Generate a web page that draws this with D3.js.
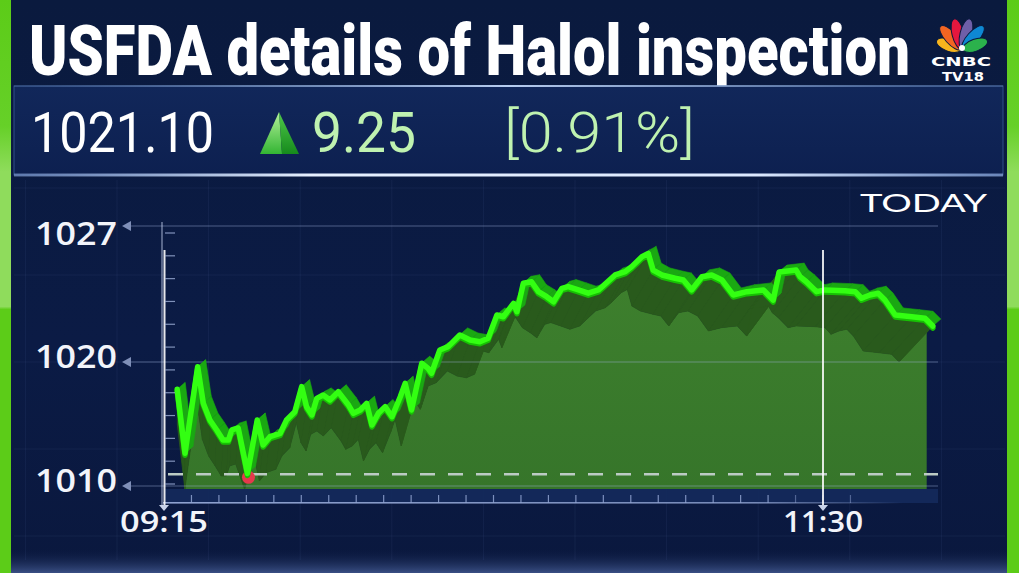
<!DOCTYPE html>
<html>
<head>
<meta charset="utf-8">
<script src="https://cdn.jsdelivr.net/npm/d3@7"></script>
<style>
  body { margin: 0; background: #0a1a40; overflow: hidden; }
</style>
</head>
<body>
<div id="chart"></div>
<script>
// ---- data ----
const title = "USFDA details of Halol inspection";
const quote = { price: "1021.10", change: "9.25", pct: "[0.91%]" };

const times = ["09:17:42","09:19:18","09:21:54","09:23:03","09:24:24","09:25:48","09:27:06","09:28:12","09:28:54","09:30:12",
  "09:32:06","09:34:06","09:35:18","09:36:42","09:38:48","09:40:06","09:41:48","09:43:12","09:44:12","09:45:18",
  "09:46:18","09:47:36","09:49:00","09:50:42","09:52:48","09:53:48","09:55:12","09:56:30","09:57:36","09:58:54",
  "10:00:18","10:01:42","10:03:24","10:04:24","10:05:42","10:07:48","10:09:06","10:09:48","10:11:30","10:13:12",
  "10:15:36","10:17:42","10:19:42","10:21:24","10:23:12","10:24:30","10:26:36","10:27:18","10:28:36","10:30:18",
  "10:31:42","10:33:24","10:34:48","10:36:30","10:37:48","10:39:54","10:41:54","10:44:00","10:47:24","10:49:30",
  "10:50:48","10:52:54","10:54:12","10:55:12","10:57:00","10:59:42","11:01:24","11:03:06","11:05:12","11:07:12",
  "11:09:18","11:11:36","11:14:24","11:17:48","11:19:48","11:21:00","11:24:30","11:25:18","11:26:36","11:28:42",
  "11:30:24","11:34:30","11:36:36","11:37:54","11:39:36","11:41:18","11:42:42","11:44:48","11:48:12","11:50:54",
  "11:52:30"];

const prices = [1017.80,1012.64,1019.62,1016.67,1015.32,1014.52,1013.71,1013.71,1014.52,1014.68,
  1011.02,1015.32,1013.31,1013.98,1014.25,1015.32,1015.99,1018.01,1016.40,1015.73,
  1017.07,1017.34,1016.94,1017.60,1016.53,1015.86,1016.13,1016.67,1014.92,1015.86,
  1016.40,1015.59,1017.20,1018.28,1016.13,1019.90,1019.49,1019.09,1020.62,1020.79,
  1021.39,1021.13,1021.04,1021.22,1022.42,1022.33,1023.02,1022.59,1024.05,1024.13,
  1023.62,1023.36,1023.10,1023.79,1023.88,1023.71,1023.54,1023.71,1024.48,1024.65,
  1024.91,1025.42,1025.59,1024.73,1024.48,1024.31,1024.22,1023.71,1024.39,1024.48,
  1024.22,1023.45,1023.62,1023.71,1023.19,1024.63,1024.73,1024.39,1024.13,1023.62,
  1023.71,1023.67,1023.62,1023.28,1023.45,1023.54,1023.19,1022.42,1022.33,1022.25,
  1021.85];

const yTicks = [1010, 1020, 1027];
const xTicks = ["09:15", "11:30"];
const refLevel = 1010.95;   // dashed line

// ---- setup ----
const W = 1019, H = 573;
const parseT = d3.timeParse("%H:%M:%S");
const parseHM = d3.timeParse("%H:%M");

const svg = d3.select("#chart").append("svg")
  .attr("width", W).attr("height", H)
  .style("display", "block");

const defs = svg.append("defs");

function vGrad(id, stops, x1 = 0, y1 = 0, x2 = 0, y2 = 1) {
  const g = defs.append("linearGradient").attr("id", id)
    .attr("x1", x1).attr("y1", y1).attr("x2", x2).attr("y2", y2);
  stops.forEach(s => g.append("stop").attr("offset", s[0]).attr("stop-color", s[1])
    .attr("stop-opacity", s[2] == null ? 1 : s[2]));
}
vGrad("bg", [[0, "#0a1a3e"], [0.6, "#0b1b45"], [1, "#0a183e"]]);
vGrad("bar", [[0, "#5ccc18"], [0.22, "#66d028"], [0.3, "#8fdc5c"], [0.535, "#8fdc5c"], [0.54, "#5ccc18"], [1, "#5ccc18"]]);
vGrad("box", [[0, "#11275a"], [1, "#0d2050"]]);
vGrad("boxTop", [[0, "#6f8fc0", 0.2], [0.5, "#b7cdf0", 1], [1, "#6f8fc0", 0.3]], 0, 0, 1, 0);
vGrad("boxBot", [[0, "#9dbbf0", 0.5], [0.3, "#e6f0ff", 1], [0.75, "#dce9ff", 1], [1, "#9dbbf0", 0.6]], 0, 0, 1, 0);
vGrad("floorGlow", [[0, "#0a183e", 0], [1, "#3a4f84", 1]]);
vGrad("triL", [[0, "#b4f09a"], [1, "#33b533"]]);
vGrad("triR", [[0, "#4fc94a"], [1, "#168a1c"]]);
vGrad("floor", [[0, "#3d7f2d"], [1, "#36752a"]]);
vGrad("xaxis", [[0, "#8fa2d0", 1], [0.8, "#8fa2d0", 0.8], [1, "#8fa2d0", 0]], 0, 0, 1, 0);

svg.append("rect").attr("width", W).attr("height", H).attr("fill", "url(#bg)");
svg.append("rect").attr("x", 0).attr("y", 548).attr("width", W).attr("height", 25).attr("fill", "url(#floorGlow)");

// faint background grid
const bgGrid = svg.append("g").attr("stroke", "#7f9ad6").attr("stroke-opacity", 0.08).attr("stroke-width", 1);
d3.range(-1, 10).forEach(k => {
  const gx = 117 + k * 91.6;
  bgGrid.append("line").attr("x1", gx).attr("x2", gx).attr("y1", 180).attr("y2", 560);
});
d3.range(-1, 4).forEach(k => {
  const gy = 275 + k * 87;
  bgGrid.append("line").attr("x1", 14).attr("x2", 1005).attr("y1", gy).attr("y2", gy);
});

// side bars
svg.append("rect").attr("x", 0).attr("y", 0).attr("width", 11).attr("height", H).attr("fill", "url(#bar)");
svg.append("rect").attr("x", 1007).attr("y", 0).attr("width", 12).attr("height", H).attr("fill", "url(#bar)");

// title: rendered at natural width, then squeezed to the reference width
const titleText = svg.append("text").text(title)
  .attr("x", 0).attr("y", 0)
  .attr("font-family", "Roboto, 'Noto Sans', sans-serif")
  .attr("font-weight", 900).attr("font-size", 71)
  .attr("fill", "#ffffff");
const natural = titleText.node().getComputedTextLength();
titleText.attr("transform", `translate(29,75) scale(${881 / natural},1)`);

// CNBC logo
const logo = svg.append("g").attr("transform", "translate(962,50)");
const featherColors = ["#f8b51d", "#f26522", "#e4173e", "#6e5fa8", "#0e88d3", "#2bb24c"];
featherColors.forEach((c, i) => {
  const a = -70 + i * 28;
  const len = (i === 0 || i === 5) ? 14 : 16.5;
  logo.append("ellipse")
    .attr("cx", 0).attr("cy", -len).attr("rx", 6).attr("ry", len - 1)
    .attr("transform", `rotate(${a})`)
    .attr("fill", c).attr("stroke", "#0a1a3e").attr("stroke-width", 1);
});
logo.append("circle").attr("cx", 0).attr("cy", -2).attr("r", 3).attr("fill", "#ffffff");
svg.append("text").text("CNBC").attr("x", 961).attr("y", 66).attr("text-anchor", "middle")
  .attr("font-family", "'DejaVu Sans', sans-serif").attr("font-weight", 700).attr("font-size", 11.5)
  .attr("textLength", 60).attr("lengthAdjust", "spacingAndGlyphs").attr("fill", "#ffffff");
svg.append("text").text("TV18").attr("x", 963).attr("y", 80.5).attr("text-anchor", "middle")
  .attr("font-family", "'DejaVu Sans', sans-serif").attr("font-weight", 700).attr("font-size", 11.5)
  .attr("textLength", 42).attr("lengthAdjust", "spacingAndGlyphs").attr("fill", "#ffffff");

// quote box
svg.append("rect").attr("x", 14).attr("y", 86).attr("width", 989).attr("height", 89)
  .attr("fill", "url(#box)").attr("stroke", "#30508a").attr("stroke-width", 1);
svg.append("rect").attr("x", 14).attr("y", 85).attr("width", 989).attr("height", 2).attr("fill", "url(#boxTop)");
svg.append("rect").attr("x", 14).attr("y", 173.5).attr("width", 989).attr("height", 3).attr("fill", "url(#boxBot)");

const quoteFont = "Roboto, 'Noto Sans', sans-serif";
svg.append("text").text(quote.price).attr("x", 31).attr("y", 152)
  .attr("textLength", 183).attr("lengthAdjust", "spacingAndGlyphs")
  .attr("font-family", quoteFont).attr("font-size", 56).attr("fill", "#ffffff");
svg.append("polygon").attr("points", "279,112 260,154 282,154").attr("fill", "url(#triL)");
svg.append("polygon").attr("points", "279,112 282,154 299,154").attr("fill", "url(#triR)");
svg.append("text").text(quote.change).attr("x", 312).attr("y", 152)
  .attr("textLength", 104).attr("lengthAdjust", "spacingAndGlyphs")
  .attr("font-family", quoteFont).attr("font-size", 56).attr("fill", "#bff2b0");
svg.append("text").text(quote.pct).attr("x", 504).attr("y", 152)
  .attr("textLength", 191).attr("lengthAdjust", "spacingAndGlyphs")
  .attr("font-family", quoteFont).attr("font-weight", 300).attr("font-size", 56).attr("fill", "#bff2b0");

// TODAY
svg.append("text").text("TODAY").attr("x", 860).attr("y", 212)
  .attr("textLength", 127).attr("lengthAdjust", "spacingAndGlyphs")
  .attr("font-family", "Lato, 'Open Sans', sans-serif").attr("font-weight", 400).attr("font-size", 25)
  .attr("fill", "#ffffff");

// ---- scales ----
const y = d3.scaleLinear().domain(yTicks).range([486, 362, 226]);
const x = d3.scaleTime().domain([parseHM(xTicks[0]), parseHM(xTicks[1])]).range([164, 823]);
const floorY = 489;

const pts = times.map((t, i) => [x(parseT(t)), y(prices[i])]);
const x0 = pts[0][0] + 5;
const shadow = pts.map(([px, py]) => [x0 + (px - x0) * 0.955, Math.min(floorY, py + 36)]);
const last = pts[pts.length - 1];
const areaRight = last[0] - 6;

defs.append("clipPath").attr("id", "plotClip").append("rect")
  .attr("x", 150).attr("y", 180).attr("width", 790).attr("height", floorY - 180);
defs.append("clipPath").attr("id", "floorClip").append("rect")
  .attr("x", pts[0][0] + 7).attr("y", 180).attr("width", areaRight - pts[0][0] - 7).attr("height", floorY - 180);

const line = d3.line();
const closed = d3.line().curve(d3.curveLinearClosed);

// floor shadow area
const floorPoly = [[shadow[0][0], floorY], ...shadow, [areaRight, last[1] + 1], [areaRight, floorY]];
svg.append("path").attr("d", closed(floorPoly))
  .attr("clip-path", "url(#floorClip)").attr("fill", "url(#floor)");

// side wall between line and its shadow
const wall = svg.append("g").attr("clip-path", "url(#plotClip)");
d3.range(pts.length - 1).forEach(i => {
  wall.append("path")
    .attr("d", closed([pts[i], pts[i + 1], shadow[i + 1], shadow[i]]))
    .attr("fill", "#295a1c").attr("stroke", "#295a1c").attr("stroke-width", 0.8);
});
wall.append("path").attr("d", closed([last, shadow[shadow.length - 1], [areaRight, last[1] + 1]]))
  .attr("fill", "#295a1c");

// horizontal gridlines (over the fill, faint)
const grid = svg.append("g");
yTicks.forEach(v => {
  grid.append("line").attr("x1", 130).attr("x2", 938).attr("y1", y(v)).attr("y2", y(v))
    .attr("stroke", "#9fb2dc").attr("stroke-opacity", 0.3).attr("stroke-width", 1.5);
});

// floor band and x axis
svg.append("rect").attr("x", 165).attr("y", floorY).attr("width", 773).attr("height", 14)
  .attr("fill", "#142a5c").attr("opacity", 0.9);
svg.append("rect").attr("x", 163).attr("y", 502).attr("width", 740).attr("height", 1.6).attr("fill", "url(#xaxis)");
const tickStep = (x.range()[1] - x.range()[0]) / 24;
d3.range(1, 26).forEach(k => {
  const tx = x.range()[0] + k * tickStep;
  svg.append("line").attr("x1", tx).attr("x2", tx).attr("y1", 495).attr("y2", 503)
    .attr("stroke", "#8fa2d0").attr("stroke-opacity", k > 22 ? 0.5 : 0.85).attr("stroke-width", 1.2);
});

// dashed reference line
svg.append("line").attr("x1", 168).attr("x2", 938).attr("y1", y(refLevel)).attr("y2", y(refLevel))
  .attr("stroke", "#bccbc4").attr("stroke-width", 2.6).attr("stroke-dasharray", "15,13");

// top face of the ribbon
const back = pts.map(([px, py]) => [px + 8, py - 7]);
const face = svg.append("g");
d3.range(pts.length - 1).forEach(i => {
  face.append("path")
    .attr("d", closed([pts[i], pts[i + 1], back[i + 1], back[i]]))
    .attr("fill", "#1aa812").attr("stroke", "#1aa812").attr("stroke-width", 0.6);
});

// low marker
const minI = d3.minIndex(prices);
svg.append("circle").attr("cx", pts[minI][0] + 1).attr("cy", pts[minI][1] + 4).attr("r", 6.5)
  .attr("fill", "#e5394c");

// main line
svg.append("path").attr("d", line(pts.map(p => [p[0], p[1] + 2])))
  .attr("fill", "none").attr("stroke", "#17c004").attr("stroke-width", 5.5)
  .attr("stroke-linejoin", "round").attr("stroke-linecap", "round");
svg.append("path").attr("d", line(pts))
  .attr("fill", "none").attr("stroke", "#33ff12").attr("stroke-width", 5.5)
  .attr("stroke-linejoin", "round").attr("stroke-linecap", "round");

// y axis decoration
svg.append("line").attr("x1", 162).attr("x2", 162).attr("y1", 222).attr("y2", 505)
  .attr("stroke", "#c5d2ee").attr("stroke-opacity", 0.7).attr("stroke-width", 1.2);
svg.append("line").attr("x1", 164.5).attr("x2", 164.5).attr("y1", 250).attr("y2", 505)
  .attr("stroke", "#ffffff").attr("stroke-opacity", 0.9).attr("stroke-width", 2);
const minorY = d3.scaleLinear().domain([0, 11]).range([233, 484]);
d3.range(12).forEach(k => {
  svg.append("line").attr("x1", 165).attr("x2", 175).attr("y1", minorY(k)).attr("y2", minorY(k))
    .attr("stroke", "#9fb0d8").attr("stroke-opacity", 0.8).attr("stroke-width", 1.2);
});

// 11:30 marker line
svg.append("line").attr("x1", x(parseHM(xTicks[1]))).attr("x2", x(parseHM(xTicks[1])))
  .attr("y1", 250).attr("y2", 505)
  .attr("stroke", "#ffffff").attr("stroke-opacity", 0.85).attr("stroke-width", 2);

// y labels + arrows
const labelFont = "'Open Sans', Roboto, sans-serif";
yTicks.forEach(v => {
  const ty = y(v);
  svg.append("polygon").attr("points", `122,${ty} 131,${ty - 5} 131,${ty + 5}`)
    .attr("fill", "#7f8fb8");
  svg.append("text").text(v).attr("x", 117).attr("y", ty + (v === 1027 ? 19 : 6))
    .attr("text-anchor", "end")
    .attr("textLength", 82).attr("lengthAdjust", "spacingAndGlyphs")
    .attr("font-family", labelFont).attr("font-weight", 600).attr("font-size", 32)
    .attr("fill", "#f2f4fa");
});

// x labels + arrows
xTicks.forEach((t, i) => {
  const tx = x(parseHM(t));
  svg.append("polygon").attr("points", `${tx - 5},505 ${tx + 5},505 ${tx},511`).attr("fill", "#c9d3ea");
  svg.append("text").text(t).attr("x", tx).attr("y", 532).attr("text-anchor", "middle")
    .attr("textLength", i === 0 ? 88 : 80).attr("lengthAdjust", "spacingAndGlyphs")
    .attr("font-family", labelFont).attr("font-weight", 600).attr("font-size", 28)
    .attr("fill", "#f2f4fa");
});
</script>
</body>
</html>
